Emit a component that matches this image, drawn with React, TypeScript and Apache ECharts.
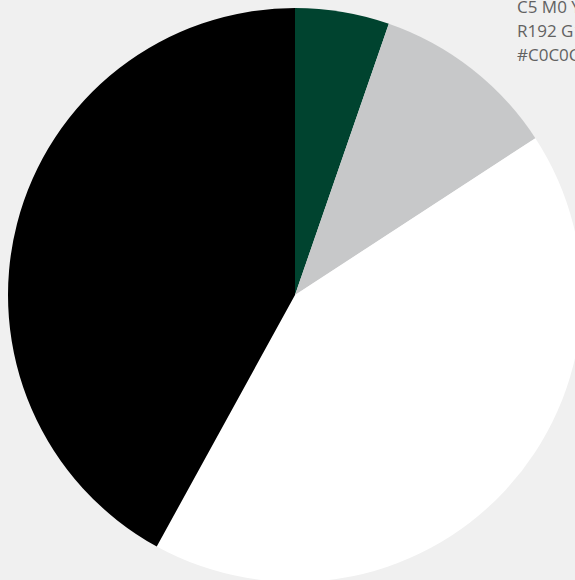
import React, { useEffect, useRef } from "react";
import * as echarts from "echarts";

const categories = ["Green", "Gray", "White", "Black"];
const values = [5.3, 10.5, 42.2, 42.0];
const colors = ["#00432f", "#c7c8c9", "#ffffff", "#000000"];
const noteLines = ["C5 M0 Y0 K25", "R192 G192 B192", "#C0C0C0"];

export default function App() {
  const ref = useRef<HTMLDivElement>(null);
  useEffect(() => {
    document.body.style.margin = "0";
    const chart = echarts.init(ref.current!, undefined, { renderer: "svg" });
    chart.setOption({
      animation: false,
      backgroundColor: "#f0f0f0",
      graphic: noteLines.map((t, i) => ({
        type: "text",
        left: 517,
        top: -2 + i * 24,
        style: {
          text: t,
          fill: "#626262",
          font: "17px 'Open Sans', sans-serif",
        },
      })),
      series: [
        {
          type: "pie",
          center: [295, 295],
          radius: [0, 287],
          startAngle: 90,
          clockwise: true,
          label: { show: false },
          labelLine: { show: false },
          emphasis: { disabled: true },
          itemStyle: { borderWidth: 0 },
          data: categories.map((c, i) => ({
            name: c,
            value: values[i],
            itemStyle: { color: colors[i] },
          })),
        },
      ],
    });
    return () => chart.dispose();
  }, []);
  return (
    <div
      ref={ref}
      style={{ position: "absolute", left: 0, top: 0, width: 575, height: 580 }}
    />
  );
}
